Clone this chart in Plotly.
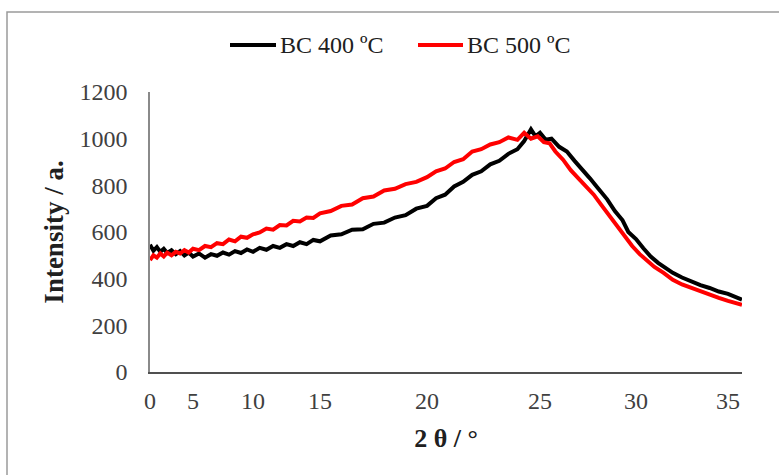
import numpy as np
import plotly.graph_objects as go

# ---------------- data ----------------
series_names = ["BC 400 ºC", "BC 500 ºC"]
tick_labels = [0, 5, 10, 15, 20, 25, 30, 35]

theta_400 = [0.0, 0.4, 0.8, 1.2, 1.6, 2.0, 2.5, 3.0, 3.5, 4.0, 4.5, 5.0, 5.5, 6.0, 6.5, 7.0, 7.5, 8.0, 8.5, 9.0,
             9.5, 10.0, 10.5, 11.0, 11.5, 12.0, 12.5, 13.0, 13.5, 14.0, 14.5, 15.0, 15.5, 16.0, 16.5, 17.0, 17.5,
             18.0, 18.5, 19.0, 19.5, 20.0, 20.4, 20.8, 21.2, 21.6, 22.0, 22.4, 22.8, 23.2, 23.6, 24.0, 24.3, 24.6,
             24.8, 25.0, 25.3, 25.6, 26.0, 26.4, 26.8, 27.2, 27.6, 28.0, 28.5, 28.9, 29.3, 29.6, 30.0, 30.4, 30.8,
             31.2, 31.6, 32.0, 32.5, 33.0, 33.5, 34.0, 34.5, 35.0, 35.4, 35.76]
intensity_400 = [545, 520, 535, 515, 528, 510, 522, 505, 518, 500, 512, 495, 508, 490, 505, 498, 512, 503, 518, 510,
                 525, 515, 532, 524, 540, 532, 548, 540, 556, 548, 566, 560, 585, 590, 610, 612, 635,
                 640, 662, 672, 700, 712, 745, 760, 795, 815, 845, 860, 890, 905, 935, 955, 990, 1040,
                 1010, 1025, 995, 1000, 965, 945, 905, 870, 830, 790, 740, 690, 650, 600, 570, 530, 495,
                 468, 445, 425, 405, 388, 372, 360, 345, 335, 322, 310]

theta_500 = [0.0, 0.4, 0.8, 1.2, 1.6, 2.0, 2.5, 3.0, 3.5, 4.0, 4.5, 5.0, 5.5, 6.0, 6.5, 7.0, 7.5, 8.0, 8.5, 9.0,
             9.5, 10.0, 10.5, 11.0, 11.5, 12.0, 12.5, 13.0, 13.5, 14.0, 14.5, 15.0, 15.5, 16.0, 16.5, 17.0, 17.5,
             18.0, 18.5, 19.0, 19.5, 20.0, 20.4, 20.8, 21.2, 21.6, 22.0, 22.4, 22.8, 23.2, 23.6, 24.0, 24.3, 24.6,
             24.9, 25.2, 25.5, 25.8, 26.2, 26.6, 27.0, 27.4, 27.8, 28.2, 28.6, 29.0, 29.4, 29.8, 30.2, 30.6, 31.0,
             31.5, 32.0, 32.5, 33.0, 33.5, 34.0, 34.5, 35.0, 35.4, 35.76]
intensity_500 = [480, 500, 490, 508, 495, 512, 500, 515, 508, 522, 512, 528, 522, 540, 535, 552, 548, 568, 560, 580,
                 575, 590, 598, 615, 610, 630, 628, 648, 645, 662, 660, 680, 690, 712, 718, 745, 752,
                 778, 785, 805, 815, 835, 860, 872, 900, 912, 945, 955, 975, 985, 1005, 995, 1025, 1000,
                 1010, 985, 980, 945, 910, 865, 830, 795, 760, 715, 670, 625, 585, 540, 505, 475, 450,
                 425, 395, 375, 360, 345, 332, 318, 305, 298, 288]

# ---------------- layout constants ----------------
W, H = 779, 475
ML, MR, MT, MB = 150, 37, 92, 103
PW = W - ML - MR
PH = H - MT - MB
# irregular (category-like) x axis of the original: label positions along the axis, in px
tick_pos = [0, 43, 103, 170, 277, 390, 486, 578]


def to_axis(theta):
    theta = np.asarray(theta, dtype=float)
    u = np.interp(theta, tick_labels, tick_pos)
    slope = (tick_pos[-1] - tick_pos[-2]) / (tick_labels[-1] - tick_labels[-2])
    beyond = theta > tick_labels[-1]
    u[beyond] = tick_pos[-1] + (theta[beyond] - tick_labels[-1]) * slope
    return u


FONT = "Liberation Serif, Times New Roman, serif"
colors = ["#000000", "#ff0000"]
TICK_SIZE = 24
LEGEND_SIZE = 24

fig = go.Figure()
for name, th, inten, col in [(series_names[0], theta_400, intensity_400, colors[0]),
                             (series_names[1], theta_500, intensity_500, colors[1])]:
    fig.add_trace(go.Scatter(x=to_axis(th), y=inten, mode="lines", name=name,
                             line=dict(color=col, width=4), showlegend=False))

fig.update_layout(
    width=W, height=H,
    margin=dict(l=ML, r=MR, t=MT, b=MB, autoexpand=False),
    paper_bgcolor="white", plot_bgcolor="white",
    font=dict(family=FONT, size=TICK_SIZE, color="#404040"),
    xaxis=dict(range=[0, PW], tickmode="array", tickvals=tick_pos, ticktext=[str(t) for t in tick_labels],
               showgrid=False, zeroline=False, showline=True, linecolor="#505050", linewidth=2,
               ticks="", ticklen=0, tickfont=dict(size=TICK_SIZE, color="#404040"), automargin=False,
               ticklabelstandoff=6,
               title=dict(text="<b>2 θ / °</b>", font=dict(size=26, color="#202020"), standoff=16)),
    yaxis=dict(range=[0, 1200], tickvals=[0, 200, 400, 600, 800, 1000, 1200],
               showgrid=False, zeroline=False, showline=True, linecolor="#8a8a8a", linewidth=1.5,
               ticks="", tickfont=dict(size=TICK_SIZE, color="#404040"), ticklabelstandoff=16, automargin=False,
               title=dict(text="<b>Intensity / a.</b>", font=dict(size=27, color="#202020"), standoff=8)),
)

# outer frame (only its top and left edges fall inside the picture)
fig.add_shape(type="rect", xref="paper", yref="paper",
              x0=(7 - ML) / PW, x1=(W + 20 - ML) / PW,
              y0=(H - MB - (H + 20)) / PH, y1=(H - MB - 12) / PH,
              line=dict(color="#9a9a9a", width=1.5), fillcolor="rgba(0,0,0,0)", layer="below")

# legend drawn manually (longer line samples as in the original)
leg_y = (H - MB - 45) / PH
for (xs, xe, xt), name, col in zip([(230, 276, 278), (418, 463, 465)], series_names, colors):
    fig.add_shape(type="line", xref="paper", yref="paper",
                  x0=(xs - ML) / PW, x1=(xe - ML) / PW, y0=leg_y, y1=leg_y,
                  line=dict(color=col, width=4))
    fig.add_annotation(xref="paper", yref="paper", x=(xt - ML) / PW, y=leg_y, text=name,
                       showarrow=False, xanchor="left", yanchor="middle",
                       font=dict(size=LEGEND_SIZE, color="#202020", family=FONT))

fig.write_html("out.html", config={"displayModeBar": False},
               post_script="document.body.style.margin='0';")
